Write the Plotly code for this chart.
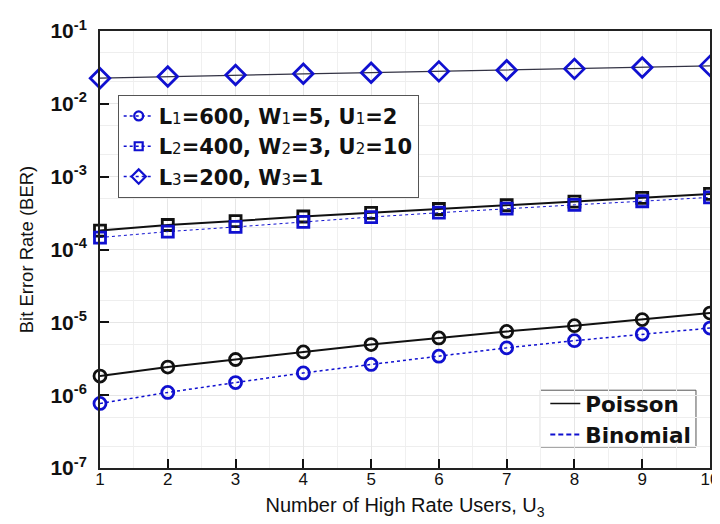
import plotly.graph_objects as go

users = [1, 2, 3, 4, 5, 6, 7, 8, 9, 10]

# L1=600, W1=5, U1=2 (circles)
poisson_L1 = [1.83e-6, 2.43e-6, 3.09e-6, 3.93e-6, 4.95e-6, 6.1e-6, 7.5e-6, 9.0e-6, 1.09e-5, 1.34e-5]
binomial_L1 = [7.7e-7, 1.09e-6, 1.49e-6, 2.02e-6, 2.64e-6, 3.43e-6, 4.46e-6, 5.6e-6, 6.9e-6, 8.35e-6]
# L2=400, W2=3, U2=10 (squares)
poisson_L2 = [1.82e-4, 2.17e-4, 2.46e-4, 2.84e-4, 3.19e-4, 3.6e-4, 4.05e-4, 4.55e-4, 5.1e-4, 5.8e-4]
binomial_L2 = [1.46e-4, 1.76e-4, 2.04e-4, 2.4e-4, 2.79e-4, 3.2e-4, 3.65e-4, 4.1e-4, 4.6e-4, 5.2e-4]
# L3=200, W3=1 (diamonds)
poisson_L3 = [0.0225, 0.0237, 0.0248, 0.0258, 0.0268, 0.0279, 0.0290, 0.0302, 0.0316, 0.0332]
binomial_L3 = [0.0225, 0.0237, 0.0248, 0.0258, 0.0268, 0.0279, 0.0290, 0.0302, 0.0316, 0.0332]

y_tickvals = [1e-7, 1e-6, 1e-5, 1e-4, 1e-3, 1e-2, 1e-1]
y_ticktext = ["<b>10<sup>-7</sup></b>", "<b>10<sup>-6</sup></b>", "<b>10<sup>-5</sup></b>",
              "<b>10<sup>-4</sup></b>", "<b>10<sup>-3</sup></b>", "<b>10<sup>-2</sup></b>",
              "<b>10<sup>-1</sup></b>"]
x_tickvals = users

SUB = "<span style='font-size:15px;font-weight:normal'>{}</span>"
name_L1 = "<b>L" + SUB.format("1") + "=600, W" + SUB.format("1") + "=5, U" + SUB.format("1") + "=2</b>"
name_L2 = "<b>L" + SUB.format("2") + "=400, W" + SUB.format("2") + "=3, U" + SUB.format("2") + "=10</b>"
name_L3 = "<b>L" + SUB.format("3") + "=200, W" + SUB.format("3") + "=1</b>"

BLACK = "#111111"
BLUE = "#1010d0"
LEGFONT = "DejaVu Sans, Arial, sans-serif"

fig = go.Figure()

# Poisson curves (black solid, open markers)
fig.add_trace(go.Scatter(x=users, y=poisson_L1, mode="lines+markers",
                         line=dict(color=BLACK, width=2),
                         marker=dict(symbol="circle-open", size=12, color=BLACK, line=dict(width=2.8)),
                         showlegend=False, cliponaxis=False))
fig.add_trace(go.Scatter(x=users, y=poisson_L2, mode="lines+markers",
                         line=dict(color=BLACK, width=2),
                         marker=dict(symbol="square-open", size=11, color=BLACK, line=dict(width=2.8)),
                         showlegend=False, cliponaxis=False))
fig.add_trace(go.Scatter(x=users, y=poisson_L3, mode="lines",
                         line=dict(color="#333344", width=1.2),
                         showlegend=False, cliponaxis=False))

# Binomial curves (blue dotted, open markers)
fig.add_trace(go.Scatter(x=users, y=binomial_L1, mode="lines+markers",
                         line=dict(color=BLUE, width=1.5, dash="dot"),
                         marker=dict(symbol="circle-open", size=12, color=BLUE, line=dict(width=2.8)),
                         showlegend=False, cliponaxis=False))
fig.add_trace(go.Scatter(x=users, y=binomial_L2, mode="lines+markers",
                         line=dict(color=BLUE, width=1, dash="dot"),
                         marker=dict(symbol="square-open", size=11, color=BLUE, line=dict(width=2.8)),
                         showlegend=False, cliponaxis=False))
fig.add_trace(go.Scatter(x=users, y=binomial_L3, mode="markers",
                         marker=dict(symbol="diamond-open", size=15, color=BLUE, line=dict(width=2.8)),
                         showlegend=False, cliponaxis=False))

# Parameter legend entries
for nm, sym, sz in [(name_L1, "circle-open", 9), (name_L2, "square-open", 8), (name_L3, "diamond-open", 11)]:
    fig.add_trace(go.Scatter(x=[None], y=[None], mode="lines+markers", name=nm,
                             line=dict(color=BLUE, width=1.5, dash="dot"),
                             marker=dict(symbol=sym, size=sz, color=BLUE, line=dict(width=2.2)),
                             legend="legend"))

# Method legend
fig.add_trace(go.Scatter(x=[None], y=[None], mode="lines", name="<b>Poisson</b>",
                         line=dict(color=BLACK, width=1.5), legend="legend2"))
fig.add_trace(go.Scatter(x=[None], y=[None], mode="lines", name="<b>Binomial</b>",
                         line=dict(color=BLUE, width=1.8, dash="5px,3px"), legend="legend2"))

fig.update_layout(
    width=720, height=524,
    margin=dict(l=92, r=9, t=21, b=64),
    paper_bgcolor="white", plot_bgcolor="white",
    font=dict(family="Arial, Liberation Sans, sans-serif", color="#111111"),
    legend=dict(x=0.029, y=0.854, xanchor="left", yanchor="top",
                bgcolor="white", bordercolor="#555555", borderwidth=1,
                font=dict(size=21, color="#111111", family=LEGFONT),
                itemwidth=30, tracegroupgap=4),
    legend2=dict(x=0.730, y=0.112, xanchor="left", yanchor="middle",
                 bgcolor="rgba(0,0,0,0)", borderwidth=0,
                 font=dict(size=21.5, color="#111111", family=LEGFONT),
                 itemwidth=30),
    shapes=[dict(type="rect", xref="paper", yref="paper", x0=0.722, x1=0.977, y0=0.048, y1=0.178,
                 fillcolor="white", line=dict(color="#555555", width=1), layer="between")],
)

fig.update_xaxes(
    range=[1, 10], tickmode="array", tickvals=x_tickvals,
    ticks="inside", ticklen=9, tickwidth=1.5, tickcolor=BLACK,
    showline=True, linecolor="#222222", linewidth=2, mirror=True,
    showgrid=True, gridcolor="#e6e6e6", gridwidth=1,
    minor=dict(dtick=0.5, showgrid=True, gridcolor="#f0f0f0"),
    tickfont=dict(size=17), zeroline=False, ticklabelstandoff=-5,
    title=dict(text="Number of High Rate Users, U<sub>3</sub>", font=dict(size=20), standoff=10),
)
fig.update_yaxes(
    type="log", range=[-7, -1], tickmode="array", tickvals=y_tickvals, ticktext=y_ticktext,
    ticks="inside", ticklen=9, tickwidth=1.5, tickcolor=BLACK,
    showline=True, linecolor="#222222", linewidth=2, mirror=True,
    showgrid=True, gridcolor="#e6e6e6", gridwidth=1,
    minor=dict(showgrid=True, gridcolor="#eeeeee", ticks=""),
    tickfont=dict(size=21), zeroline=False, ticklabelstandoff=7,
    title=dict(text="Bit Error Rate (BER)", font=dict(size=18.5), standoff=12),
)

fig.write_html("out.html")
